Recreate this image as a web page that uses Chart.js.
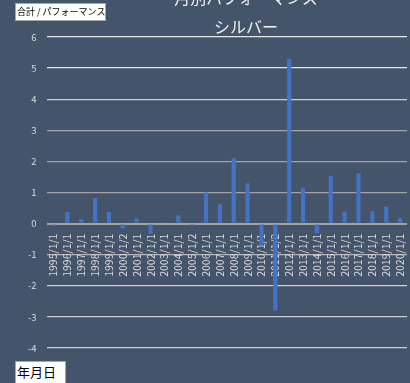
<!DOCTYPE html>
<html>
<head>
<meta charset="utf-8">
<title>月別パフォーマンス シルバー</title>
<script src="https://cdn.jsdelivr.net/npm/chart.js"></script>
<style>
  body { margin: 0; background: #44546a; overflow: hidden; }
  #wrap { position: relative; width: 410px; height: 383px; }
  canvas { position: absolute; left: 0; top: 0; }
  .title { position: absolute; left: 146px; width: 200px; text-align: center; color: #f2f2f2;
           font: 16px "Noto Sans CJK JP", sans-serif; line-height: 20px; white-space: nowrap; }
  .btn { position: absolute; background: #fff; border: 1px solid #a6a6a6; color: #000;
         font-family: "Noto Sans CJK JP", sans-serif; white-space: nowrap; box-sizing: border-box; }
</style>
</head>
<body>
<div id="wrap">
  <canvas id="chart" width="410" height="383"></canvas>
  <div class="title" style="top:-13px">月別パフォーマンス</div>
  <div class="title" style="top:16px">シルバー</div>
  <div class="btn" style="left:15px;top:3px;width:91px;height:18px;font-size:9px;line-height:16px;padding-left:1px">合計 / パフォーマンス</div>
  <div class="btn" style="left:15px;top:361px;width:51px;height:24px;font-size:13px;line-height:20px;padding-left:1px">年月日</div>
</div>

<script>
  // 年ごとのパフォーマンス（シルバー）
  var dates = ['1995/1/1', '1996/1/1', '1997/1/1', '1998/1/1', '1999/1/1', '2000/1/2',
               '2001/1/1', '2002/1/1', '2003/1/1', '2004/1/1', '2005/1/2', '2006/1/1',
               '2007/1/1', '2008/1/1', '2009/1/1', '2010/1/1', '2011/1/2', '2012/1/1',
               '2013/1/1', '2014/1/1', '2015/1/1', '2016/1/1', '2017/1/1', '2018/1/1',
               '2019/1/1', '2020/1/1'];
  var performance = [-0.08, 0.37, 0.14, 0.82, 0.37, -0.16, 0.16, -0.33, 0.04, 0.27, -0.06, 1.0,
                     0.62, 2.1, 1.3, -0.7, -2.8, 5.3, 1.14, -0.3, 1.54, 0.38, 1.62, 0.4,
                     0.54, 0.17];
  var yMin = -4, yMax = 6, yStep = 1;

  Chart.defaults.font.family = '"Noto Sans CJK JP", "Noto Sans", sans-serif';

  // 目盛線の色（上下は明るめ、中央付近は灰色）
  function gridColor(v) {
    if (v >= 5) return '#e6e6e6';
    if (v === 4) return '#cfcfcf';
    if (v >= 0) return '#a3a3a3';
    if (v === -1) return '#b5b5b5';
    return '#d0d0d0';
  }

  var ctx = document.getElementById('chart').getContext('2d');
  new Chart(ctx, {
    type: 'bar',
    data: {
      labels: dates,
      datasets: [{
        label: 'パフォーマンス',
        data: performance,
        backgroundColor: '#4472c4',
        barPercentage: 0.3,
        categoryPercentage: 1
      }]
    },
    options: {
      responsive: false,
      animation: false,
      layout: { padding: { left: 18, right: 3, top: 37, bottom: 35 } },
      plugins: {
        legend: { display: false },
        tooltip: { enabled: false }
      },
      scales: {
        x: {
          position: { y: 0 },
          grid: { display: false },
          border: { display: false },
          ticks: {
            color: '#d9d9d9',
            font: { size: 10.5 },
            minRotation: 90,
            maxRotation: 90,
            autoSkip: false,
            padding: 2
          },
          // 軸ラベルは0の線に重ねるので、レイアウト上の高さと左右の余白は取らない
          afterFit: function (scale) {
            scale.height = 0;
            scale.paddingLeft = 0;
            scale.paddingRight = 0;
          }
        },
        y: {
          min: yMin,
          max: yMax,
          ticks: { stepSize: yStep, color: '#d9d9d9', font: { size: 9.5 }, padding: 10 },
          grid: {
            drawTicks: false,
            color: function (c) { return gridColor(c.tick.value); },
            lineWidth: function (c) { return c.tick.value === 0 ? 2 : 1.3; }
          },
          border: { display: false }
        }
      }
    }
  });
</script>
</body>
</html>
